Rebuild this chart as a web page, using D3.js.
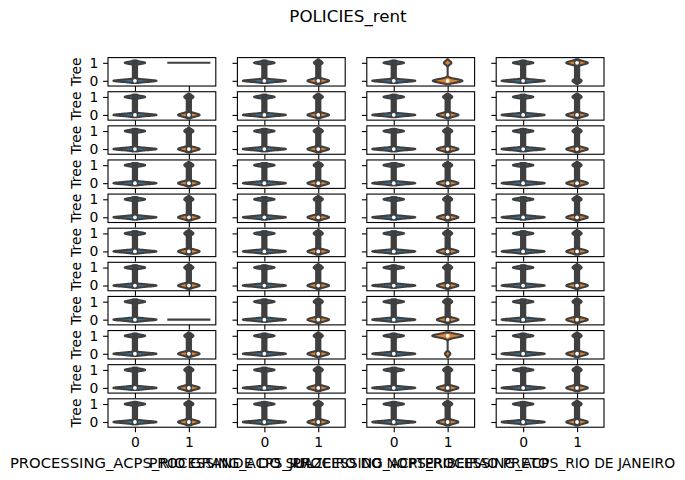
<!DOCTYPE html>
<html><head><meta charset="utf-8">
<script src="https://cdn.jsdelivr.net/npm/d3@7"></script>
<style>body{margin:0;background:#fff} svg{display:block} text{font-family:"DejaVu Sans",sans-serif}</style>
</head><body><svg id="c" width="685" height="480"></svg>
<script>
// ---------- data ----------
const title = "POLICIES_rent";
const rowLabel = "Tree";
const columnLabels = ["PROCESSING_ACPS_RIO GRANDE DO SUL", "PROCESSING_ACPS_JUAZEIRO DO NORTE",
                      "PROCESSING_ACPS_RIBEIRAO PRETO", "PROCESSING_ACPS_RIO DE JANEIRO"];
const categories = [0, 1];
const yTickValues = [0, 1];
const nRows = 11, nCols = 4;

// violin widths (category units) at value 0 and value 1, row-major 11 x 4
const cat0WidthAtZero = [
  0.80,0.80,0.80,0.80, 0.80,0.80,0.80,0.80, 0.80,0.80,0.80,0.80, 0.80,0.80,0.80,0.80,
  0.80,0.80,0.80,0.80, 0.80,0.80,0.80,0.80, 0.80,0.80,0.80,0.80, 0.80,0.80,0.80,0.80,
  0.80,0.80,0.80,0.80, 0.80,0.80,0.80,0.80, 0.80,0.80,0.80,0.80];
const cat0WidthAtOne = [
  0.38,0.38,0.38,0.38, 0.38,0.38,0.38,0.38, 0.38,0.38,0.38,0.38, 0.38,0.38,0.38,0.38,
  0.38,0.38,0.38,0.38, 0.38,0.38,0.38,0.38, 0.38,0.38,0.38,0.38, 0.38,0.38,0.38,0.38,
  0.38,0.38,0.38,0.38, 0.38,0.38,0.38,0.38, 0.38,0.38,0.38,0.38];
const cat0ShareOfOnes = [
  0.3,0.3,0.3,0.3, 0.3,0.3,0.3,0.3, 0.3,0.3,0.3,0.3, 0.3,0.3,0.3,0.3,
  0.3,0.3,0.3,0.3, 0.3,0.3,0.3,0.3, 0.3,0.3,0.3,0.3, 0.3,0.3,0.3,0.3,
  0.3,0.3,0.3,0.3, 0.3,0.3,0.3,0.3, 0.3,0.3,0.3,0.3];
const cat1WidthAtZero = [
  0.00,0.40,0.55,0.17, 0.40,0.40,0.40,0.40, 0.40,0.40,0.40,0.40, 0.40,0.40,0.40,0.40,
  0.40,0.40,0.40,0.40, 0.40,0.40,0.40,0.40, 0.40,0.40,0.40,0.40, 0.80,0.40,0.40,0.40,
  0.40,0.40,0.10,0.40, 0.40,0.40,0.40,0.40, 0.40,0.40,0.40,0.40];
const cat1WidthAtOne = [
  0.80,0.16,0.14,0.40, 0.17,0.17,0.17,0.17, 0.17,0.17,0.17,0.17, 0.17,0.17,0.17,0.17,
  0.17,0.17,0.17,0.17, 0.17,0.17,0.17,0.17, 0.17,0.17,0.17,0.17, 0.00,0.17,0.17,0.17,
  0.17,0.17,0.57,0.17, 0.17,0.17,0.17,0.17, 0.17,0.17,0.17,0.17];
const cat1ShareOfOnes = [
  1.0,0.3,0.2,0.7, 0.3,0.3,0.3,0.3, 0.3,0.3,0.3,0.3, 0.3,0.3,0.3,0.3,
  0.3,0.3,0.3,0.3, 0.3,0.3,0.3,0.3, 0.3,0.3,0.3,0.3, 0.0,0.3,0.3,0.3,
  0.3,0.3,0.85,0.3, 0.3,0.3,0.3,0.3, 0.3,0.3,0.3,0.3];
const bandwidths = [0.06, 0.095];
const colors = ["#3274a1", "#e1812c"];
const gray = "#3f3f3f";

// ---------- layout ----------
const svg = d3.select("#c");
const left0 = 108, axW = 107.8, colStep = 129.4;
const top0 = 57.6, axH = 28.43, rowStep = 34.12;
const fs = 13.9;

svg.append("text").attr("x", 348).attr("y", 22).attr("text-anchor", "middle")
  .style("font-size", "16.7px").text(title);

function violinStats(p) {
  const q1 = p > 0.75 ? 1 : 0, q3 = p > 0.25 ? 1 : 0, med = p > 0.5 ? 1 : 0;
  return {q1, q3, med};
}

for (let r = 0; r < nRows; r++) {
  for (let c = 0; c < nCols; c++) {
    const i = r * nCols + c;
    const x0 = left0 + c * colStep, y0 = top0 + r * rowStep;
    const x = d3.scaleLinear().domain([-0.5, 1.5]).range([x0, x0 + axW]);
    const y = d3.scaleLinear().domain([-0.29, 1.29]).range([y0 + axH, y0]);
    const g = svg.append("g");
    const clipId = "clip" + i;
    g.append("clipPath").attr("id", clipId).append("rect")
      .attr("x", x0).attr("y", y0).attr("width", axW).attr("height", axH);
    const body = g.append("g").attr("clip-path", `url(#${clipId})`);

    const specs = [
      {wz: cat0WidthAtZero[i], wo: cat0WidthAtOne[i], p: cat0ShareOfOnes[i]},
      {wz: cat1WidthAtZero[i], wo: cat1WidthAtOne[i], p: cat1ShareOfOnes[i]}
    ];
    specs.forEach((s, k) => {
      const cx = categories[k];
      if (s.p === 0 || s.p === 1) {
        const w = s.p === 1 ? s.wo : s.wz;
        body.append("line").attr("x1", x(cx - w / 2)).attr("x2", x(cx + w / 2))
          .attr("y1", y(s.p)).attr("y2", y(s.p))
          .attr("stroke", gray).attr("stroke-width", 2.08);
        return;
      }
      const bw = bandwidths[k];
      const lo = -2 * bw, hi = 1 + 2 * bw;
      const pts = d3.range(0, 201).map(j => lo + (hi - lo) * j / 200);
      const hw = v => (s.wz / 2) * Math.exp(-0.5 * (v / bw) ** 2) + (s.wo / 2) * Math.exp(-0.5 * ((v - 1) / bw) ** 2);
      const area = d3.area().y(v => y(v)).x0(v => x(cx - hw(v))).x1(v => x(cx + hw(v)));
      body.append("path").attr("d", area(pts)).attr("fill", colors[k])
        .attr("stroke", gray).attr("stroke-width", 2.08).attr("stroke-linejoin", "round");
      const st = violinStats(s.p);
      if (st.q3 > st.q1) {
        body.append("line").attr("x1", x(cx)).attr("x2", x(cx))
          .attr("y1", y(st.q1)).attr("y2", y(st.q3))
          .attr("stroke", gray).attr("stroke-width", 6.25).attr("stroke-linecap", "square");
      }
      body.append("circle").attr("cx", x(cx)).attr("cy", y(st.med)).attr("r", 1.9)
        .attr("fill", "#fff");
    });

    // axes
    const ay = g.append("g").attr("transform", `translate(${x0},0)`)
      .call(d3.axisLeft(y).tickValues(yTickValues).tickSize(4.9).tickPadding(4.8)
        .tickFormat(c === 0 ? d3.format("d") : () => ""));
    const ax = g.append("g").attr("transform", `translate(0,${y0 + axH})`)
      .call(d3.axisBottom(x).tickValues(categories).tickSize(4.9).tickPadding(4.8)
        .tickFormat(r === nRows - 1 ? d3.format("d") : () => ""));
    [ay, ax].forEach(a => {
      a.select(".domain").remove();
      a.selectAll("line").attr("stroke", "#000").attr("stroke-width", 1.1);
      a.selectAll("text").style("font-size", fs + "px").attr("fill", "#000")
        .style("font-family", "DejaVu Sans");
    });
    g.append("rect").attr("x", x0).attr("y", y0).attr("width", axW).attr("height", axH)
      .attr("fill", "none").attr("stroke", "#000").attr("stroke-width", 1.1);

    if (c === 0) {
      g.append("text").attr("transform", `translate(81,${y0 + axH / 2}) rotate(-90)`)
        .attr("text-anchor", "middle").style("font-size", fs + "px").text(rowLabel);
    }
    if (r === nRows - 1) {
      const t = g.append("text").attr("x", x0 + axW / 2).attr("y", 468).attr("text-anchor", "middle")
        .style("font-size", fs + "px").text(columnLabels[c]);
      if (c === 0) t.attr("textLength", 304).attr("lengthAdjust", "spacingAndGlyphs");
      if (c === nCols - 1) t.attr("textLength", 250).attr("lengthAdjust", "spacingAndGlyphs");
    }
  }
}
</script></body></html>
